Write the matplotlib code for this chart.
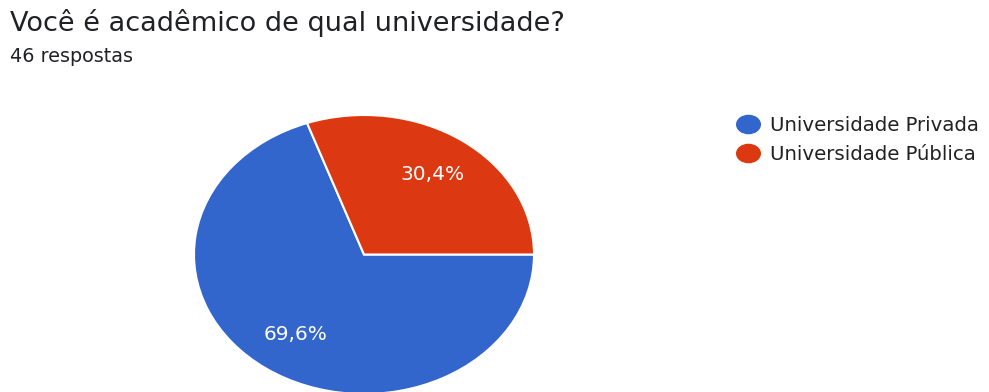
import matplotlib
matplotlib.use("Agg")
import matplotlib.pyplot as plt
from matplotlib.lines import Line2D
from matplotlib.path import Path
from matplotlib.transforms import Affine2D

title = "Você é acadêmico de qual universidade?"
subtitle = "46 respostas"
categories = ["Universidade Privada", "Universidade Pública"]
counts = [32, 14]
colors = ["#3366cc", "#dc3912"]

plt.rcParams["font.family"] = ["DejaVu Sans"]

W, H = 989, 392
fig = plt.figure(figsize=(W / 100, H / 100), dpi=100)
fig.patch.set_facecolor("white")

def px_box(x0, y0, x1, y1):
    return [x0 / W, 1 - y1 / H, (x1 - x0) / W, (y1 - y0) / H]

ax = fig.add_axes(px_box(194, 115, 534, 394))

def pct_label(p):
    return f"{p:.1f}%".replace(".", ",")

wedges, _, autotexts = ax.pie(
    counts,
    colors=colors,
    startangle=0,
    counterclock=False,
    autopct=pct_label,
    pctdistance=0.70,
    wedgeprops=dict(edgecolor="white", linewidth=1.5),
    textprops=dict(color="white", fontsize=14.5),
)
ax.set_aspect("auto")
ax.set_xlim(-1, 1)
ax.set_ylim(-1, 1)
ax.axis("off")

fig.text(10 / W, 1 - 23 / H, title, fontsize=19.5, color="#202124", va="center", ha="left")
fig.text(10 / W, 1 - 57 / H, subtitle, fontsize=13.8, color="#202124", va="center", ha="left")

oval = Path.unit_circle().transformed(Affine2D().scale(1.3, 1.0))
handles = [
    Line2D([], [], marker=oval, linestyle="none", markersize=17,
           markerfacecolor=c, markeredgecolor=c)
    for c in colors
]
fig.legend(
    handles, categories,
    loc="upper left",
    bbox_to_anchor=(735 / W, 1 - 116 / H),
    frameon=False,
    fontsize=14.2,
    labelcolor="#222222",
    handlelength=1.35,
    handletextpad=0.4,
    labelspacing=0.5,
    borderaxespad=0,
    borderpad=0,
)

fig.savefig("out.png", dpi=100, facecolor="white")
